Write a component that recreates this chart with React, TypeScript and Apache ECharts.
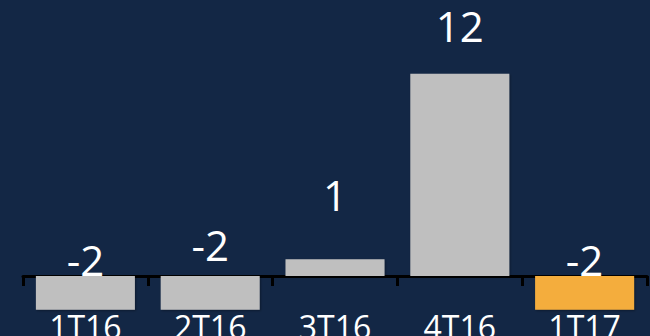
import React, { useEffect, useRef } from "react";
import * as echarts from "echarts";

const categories = ["1T16", "2T16", "3T16", "4T16", "1T17"];
const values = [-2, -2, 1, 12, -2];
const barColors = ["#BFBFBF", "#BFBFBF", "#BFBFBF", "#BFBFBF", "#F4AD3D"];
const labelDistances = [-4, 11, 44, 27, -4];

export default function App() {
  const ref = useRef<HTMLDivElement>(null);
  useEffect(() => {
    if (!ref.current) return;
    const chart = echarts.init(ref.current, null, { renderer: "svg" });
    chart.setOption({
      animation: false,
      backgroundColor: "#132745",
      grid: { left: 23, right: 3, top: 6.4, bottom: 24.6, containLabel: false, outerBoundsMode: "none" },
      xAxis: {
        type: "category",
        data: categories,
        axisLine: { onZero: true, lineStyle: { color: "#000000", width: 3 } },
        axisTick: { show: true, length: 10, inside: false, alignWithLabel: false, lineStyle: { color: "#000000", width: 3 } },
        axisLabel: { color: "#FFFFFF", fontFamily: "Open Sans", fontSize: 32, lineHeight: 20, margin: 4.6 },
        z: 1,
      },
      yAxis: {
        type: "value",
        min: -2.1,
        max: 16,
        show: false,
        splitLine: { show: false },
      },
      series: [
        {
          type: "bar",
          barWidth: 99,
          z: 2,
          data: values.map((v, i) => ({
            value: v,
            itemStyle: {
              color: barColors[i],
              shadowColor: "rgba(0,0,0,0.35)",
              shadowBlur: 2,
              shadowOffsetX: 1,
              shadowOffsetY: 1,
            },
            label: { distance: labelDistances[i] },
          })),
          label: {
            show: true,
            position: "top",
            color: "#FFFFFF",
            fontFamily: "Open Sans",
            fontSize: 42,
          },
        },
      ],
    });
    return () => chart.dispose();
  }, []);
  return (
    <div
      ref={ref}
      style={{ position: "absolute", left: 0, top: 0, width: 650, height: 336 }}
    />
  );
}
